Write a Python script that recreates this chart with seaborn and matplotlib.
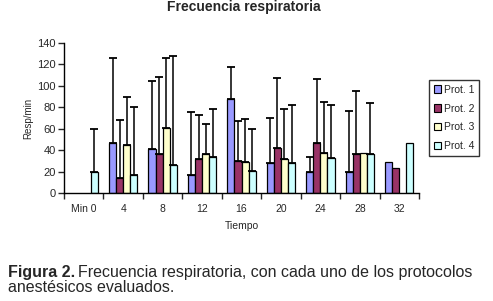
import numpy as np
import pandas as pd
import matplotlib
matplotlib.use("Agg")
import matplotlib.pyplot as plt
from matplotlib.patches import Patch
import seaborn as sns

# --- datos ---
tiempos = ["Min 0", "4", "8", "12", "16", "20", "24", "28", "32"]
protocolos = ["Prot. 1", "Prot. 2", "Prot. 3", "Prot. 4"]
nan = np.nan
prot1 = [nan, 47, 41, 17, 88, 28, 20, 20, 29]
prot2 = [nan, 14, 36, 32, 30, 42, 47, 36, 23]
prot3 = [nan, 45, 61, 36, 29, 32, 37, 37, nan]
prot4 = [20, 17, 26, 34, 21, 28, 33, 36, 47]
# extremo superior de la barra de error (media + DE)
sup1 = [nan, 126, 105, 76, 118, 70, 34, 77, nan]
sup2 = [nan, 68, 108, 73, 67, 107, 106, 95, nan]
sup3 = [nan, 90, 126, 64, 69, 78, 85, nan, nan]
sup4 = [60, 80, 128, 78, 60, 82, 82, 84, nan]
colores = ["#9999FF", "#993366", "#FFFFCC", "#CCFFFF"]

medias = [prot1, prot2, prot3, prot4]
superiores = [sup1, sup2, sup3, sup4]

filas = []
for prot, vals in zip(protocolos, medias):
    for t, v in zip(tiempos, vals):
        filas.append({"Tiempo": t, "Protocolo": prot, "Resp": v})
df = pd.DataFrame(filas).dropna()

sns.set_theme(style="white")
plt.rcParams["font.family"] = ["Liberation Sans", "DejaVu Sans"]

fig = plt.figure(figsize=(4.93, 3.01), dpi=100)
ax = fig.add_axes([64 / 493, 1 - 193 / 301, 355 / 493, 150 / 301])

sns.barplot(data=df, x="Tiempo", y="Resp", hue="Protocolo", order=tiempos,
            hue_order=protocolos, palette=colores, width=0.72, errorbar=None,
            edgecolor="black", linewidth=0.9, saturation=1, ax=ax)
if ax.get_legend() is not None:
    ax.get_legend().remove()

# barras de error solo hacia arriba
barras = list(ax.containers)
for i, cont in enumerate(barras):
    for bar in cont:
        xc = bar.get_x() + bar.get_width() / 2
        k = int(round(xc))
        alto = bar.get_height()
        top = superiores[i][k]
        if np.isnan(alto) or np.isnan(top):
            continue
        ax.errorbar(xc, alto, yerr=[[0], [top - alto]], fmt="none",
                    ecolor="black", elinewidth=1.1, capsize=2.6, capthick=1.3)

ax.set_xlim(-0.5, len(tiempos) - 0.5)
ax.set_ylim(0, 140)
ax.set_yticks(range(0, 141, 20))
ax.set_xticks(np.arange(-0.5, len(tiempos), 1.0))
ax.set_xticklabels([])
ax.set_xticks(range(len(tiempos)), minor=True)
ax.set_xticklabels(tiempos, minor=True)
ax.tick_params(axis="x", which="major", length=4, width=1, direction="out", bottom=True)
ax.tick_params(axis="x", which="minor", length=0, pad=8, labelsize=7.5)
ax.tick_params(axis="y", length=4, width=1, direction="out", left=True, labelsize=8, pad=2)

for s in ["top", "right"]:
    ax.spines[s].set_visible(False)
for s in ["left", "bottom"]:
    ax.spines[s].set_color("black")
    ax.spines[s].set_linewidth(1)

ax.set_xlabel("Tiempo", fontsize=7.5, labelpad=5)
ax.set_ylabel("Resp/min", fontsize=7, labelpad=3)

fig.text(244 / 493, 1 - 7 / 301, "Frecuencia respiratoria", ha="center", va="center",
         fontsize=10, fontweight="bold")

handles = [Patch(facecolor=c, edgecolor="black", linewidth=0.8) for c in colores]
ax.legend(handles, protocolos, loc="upper left", bbox_to_anchor=(429 / 493, 1 - 80 / 301),
          bbox_transform=fig.transFigure, frameon=True, fancybox=False, fontsize=7.5,
          handlelength=0.7, handleheight=0.7, handletextpad=0.3, labelspacing=0.85,
          borderpad=0.45, borderaxespad=0, edgecolor="black")
ax.get_legend().get_frame().set_linewidth(1)

# pie de figura
renderer = fig.canvas.get_renderer()
t1 = fig.text(8 / 493, 1 - 277 / 301, "Figura 2.", fontsize=11.5, fontweight="bold",
              va="baseline", ha="left")
bb = t1.get_window_extent(renderer=renderer)
fig.text((bb.x1 + 3) / 493, 1 - 277 / 301,
         "Frecuencia respiratoria, con cada uno de los protocolos",
         fontsize=11.5, va="baseline", ha="left")
fig.text(8 / 493, 1 - 292 / 301, "anestésicos evaluados.", fontsize=11.5,
         va="baseline", ha="left")

fig.savefig("out.png", dpi=100)
